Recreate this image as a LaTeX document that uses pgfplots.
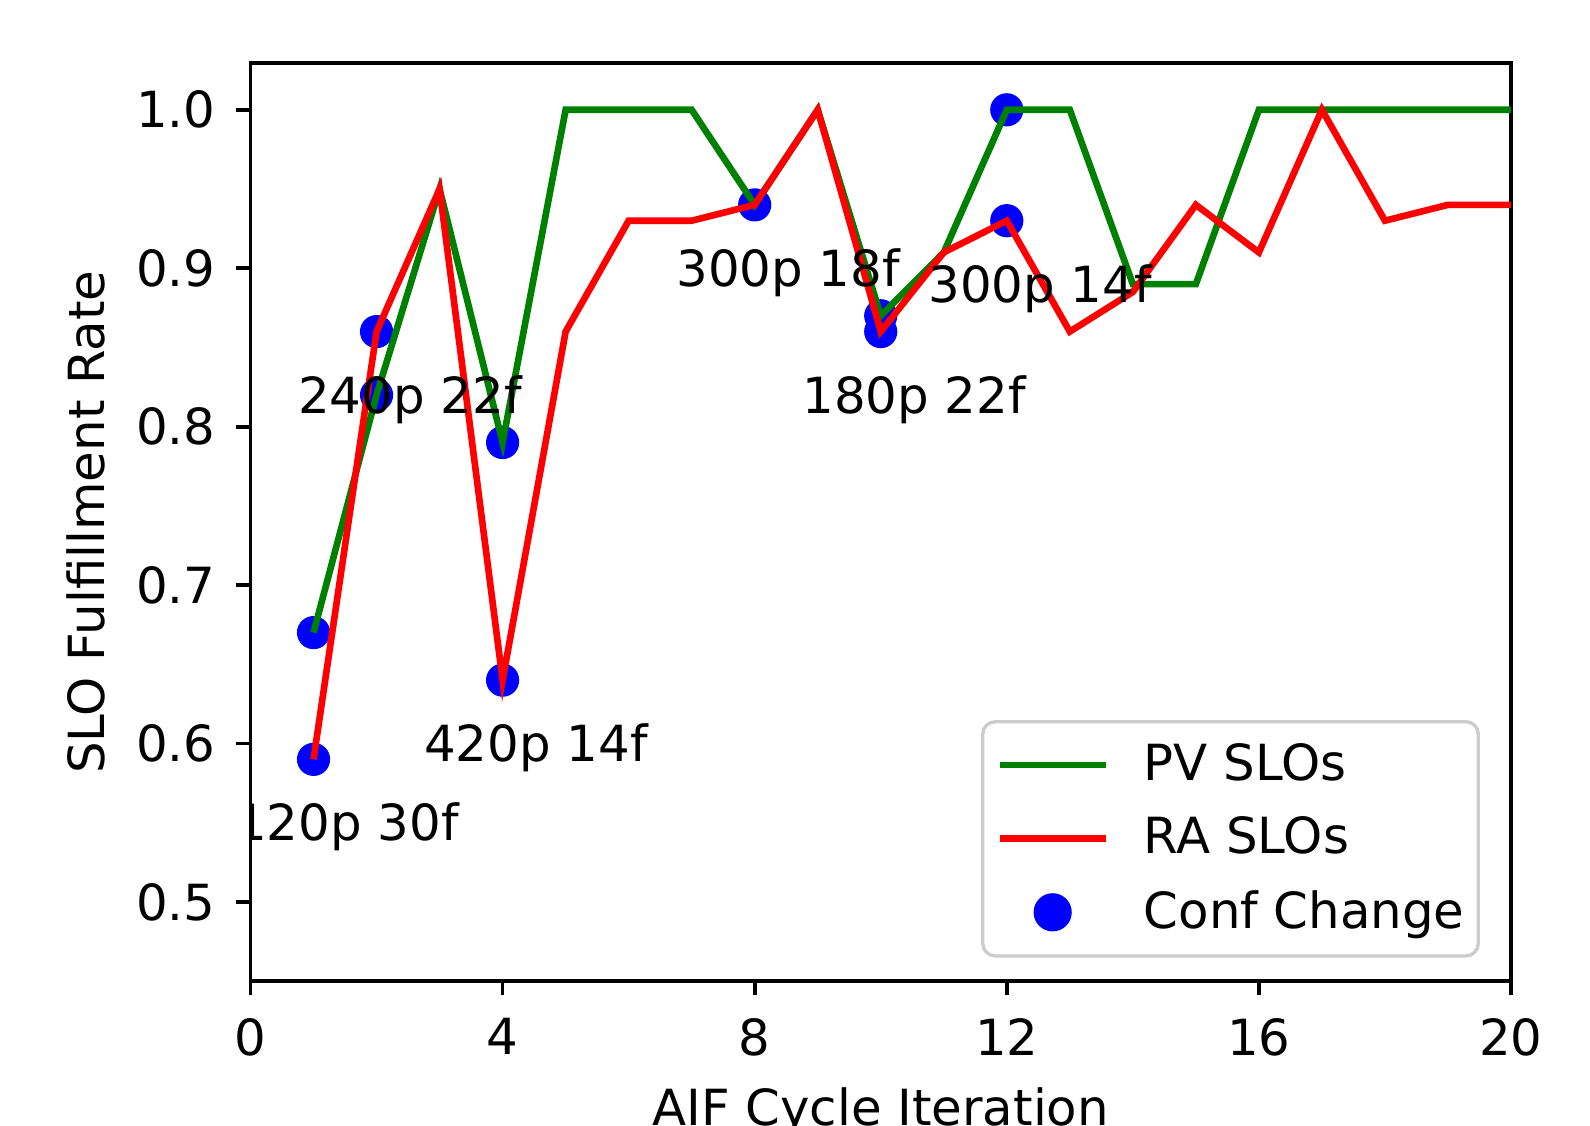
\documentclass[border=0pt]{standalone}
\usepackage{fontspec}
\setmainfont{DejaVu Sans}
\usepackage{pgfplots}
\pgfplotsset{compat=1.18}
\definecolor{mplgreen}{HTML}{008000}
\definecolor{mplred}{HTML}{FF0000}
\definecolor{mplblue}{HTML}{0000FF}
\pgfplotsset{
  mplline/.style={legend image code/.code={\draw[##1] (0pt,0pt) -- (25.5pt,0pt);}},
  mpldot/.style={legend image code/.code={\fill[mplblue] (12.75pt,0pt) circle (4.2pt);}},
}

\begin{document}
\begin{tikzpicture}[font=\fontsize{12}{14.4}\selectfont]
\begin{axis}[
  at={(0,0)}, anchor=south west,
  scale only axis, width=303.7pt, height=221.2pt,
  xmin=0, xmax=20, ymin=0.45, ymax=1.0295,
  xtick={0,4,8,12,16,20}, ytick={0.5,0.6,0.7,0.8,0.9,1.0},
  yticklabel style={/pgf/number format/fixed, /pgf/number format/fixed zerofill,
    /pgf/number format/precision=1, inner sep=0pt, xshift=-4.9pt},
  /pgf/number format/assume math mode=true,
  tick align=outside, major tick length=3.4pt,
  xtick pos=bottom, ytick pos=left,
  axis line style={line width=0.9pt},
  tick style={line width=0.9pt, black},
  xticklabel style={inner sep=0pt, yshift=-5.4pt},
  clip marker paths=true,
  xlabel={AIF Cycle Iteration}, ylabel={SLO Fulfillment Rate},
  xlabel style={at={(axis description cs:0.5,0)}, anchor=north, yshift=-25.5pt, inner sep=0pt},
  ylabel style={at={(axis description cs:-0.1305,0.5)}, anchor=center, inner sep=0pt},
  legend cell align=left,
  legend style={at={(axis description cs:0.5796,0.2844)}, anchor=north west,
    draw=black!20, line width=0.8pt, rounded corners=3pt, fill=white,
    inner xsep=3.3pt, inner ysep=5.2pt, row sep=7.3pt, column sep=8.4pt,
    nodes={inner sep=0pt}},
]
% configuration changes (drawn below the lines)
\addplot[only marks, mark=*, mark size=3.8pt, color=mplblue, forget plot] coordinates {
  (1,0.67) (1,0.59) (2,0.86) (2,0.82) (4,0.79) (4,0.64)
  (8,0.94) (10,0.87) (10,0.86) (12,1.0) (12,0.93)};

\addplot[mplgreen, line width=1.6pt, mplline] coordinates {
  (1,0.67) (2,0.82) (3,0.95) (4,0.79) (5,1.0) (6,1.0) (7,1.0) (8,0.94)
  (9,1.0) (10,0.87) (11,0.91) (12,1.0) (13,1.0) (14,0.89) (15,0.89)
  (16,1.0) (17,1.0) (18,1.0) (19,1.0) (20,1.0)};
\addlegendentry{PV SLOs}

\addplot[mplred, line width=1.6pt, mplline] coordinates {
  (1,0.59) (2,0.86) (3,0.95) (4,0.64) (5,0.86) (6,0.93) (7,0.93) (8,0.94)
  (9,1.0) (10,0.86) (11,0.91) (12,0.93) (13,0.86) (14,0.885) (15,0.94)
  (16,0.91) (17,1.0) (18,0.93) (19,0.94) (20,0.94)};
\addlegendentry{RA SLOs}

\addlegendimage{mpldot}
\addlegendentry{\raisebox{0pt}[\height][0pt]{Conf Change}\hspace{4pt}}

\begin{scope}[every node/.style={inner sep=0pt, anchor=base, yshift=-4.4pt}]
\node at (axis cs:1.53,0.55) {120p 30f};
\node at (axis cs:2.53,0.82) {240p 22f};
\node at (axis cs:4.53,0.60) {420p 14f};
\node at (axis cs:8.53,0.90) {300p 18f};
\node at (axis cs:10.53,0.82) {180p 22f};
\node at (axis cs:12.53,0.89) {300p 14f};
\end{scope}
\end{axis}
\pgfresetboundingbox
\path[use as bounding box] (-60.36pt,-34.7pt) rectangle (322.74pt,236.4pt);
\end{tikzpicture}
\end{document}
